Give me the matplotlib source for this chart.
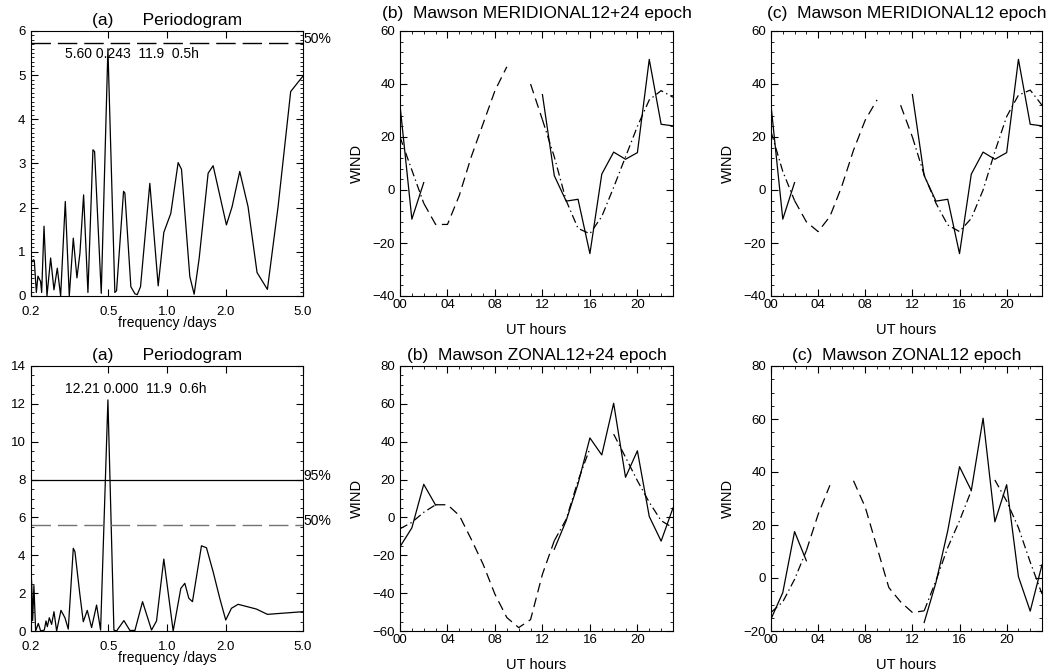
import numpy as np
import matplotlib
matplotlib.use('Agg')
import matplotlib.pyplot as plt
from matplotlib.ticker import MultipleLocator, FixedLocator, NullLocator

plt.rcParams['font.family'] = ['Liberation Sans', 'DejaVu Sans']
plt.rcParams['lines.scale_dashes'] = False

nan = np.nan
hours = np.arange(24)

# periodogram of the meridional wind (top row)
freq_mer = [0.2000, 0.2016, 0.2064, 0.2080, 0.2130, 0.2171, 0.2240, 0.2269, 0.2333, 0.2416,
            0.2523, 0.2625, 0.2730, 0.2840, 0.3001, 0.3146, 0.3299, 0.3445, 0.3569, 0.3727,
            0.3923, 0.4162, 0.4245, 0.4593, 0.4970, 0.5395, 0.5505, 0.5980, 0.6075, 0.6520,
            0.6840, 0.7030, 0.7310, 0.8160, 0.9010, 0.9630, 1.0460, 1.1410, 1.1870, 1.3100,
            1.3790, 1.4630, 1.6270, 1.7260, 2.0200, 2.1600, 2.3650, 2.6100, 2.9030, 3.2810,
            3.7220, 4.3220, 5.0000]
power_mer = [0.62, 0.78, 0.82, 0.80, 0.08, 0.45, 0.33, 0.08, 1.58, 0.00,
             0.86, 0.14, 0.63, 0.00, 2.14, 0.00, 1.31, 0.41, 0.97, 2.29,
             0.08, 3.31, 3.27, 0.06, 5.60, 0.08, 0.12, 2.37, 2.33, 0.21,
             0.05, 0.03, 0.21, 2.55, 0.23, 1.44, 1.87, 3.02, 2.87, 0.44,
             0.04, 0.85, 2.78, 2.95, 1.61, 2.02, 2.82, 2.02, 0.53, 0.15,
             2.02, 4.63, 4.98]

# periodogram of the zonal wind (bottom row)
freq_zon = [0.2000, 0.2020, 0.2040, 0.2070, 0.2113, 0.2181, 0.2242, 0.2341, 0.2388, 0.2426,
            0.2484, 0.2553, 0.2625, 0.2709, 0.2851, 0.2989, 0.3109, 0.3299, 0.3364, 0.3569,
            0.3713, 0.3892, 0.4097, 0.4346, 0.4557, 0.4970, 0.5335, 0.5505, 0.6004, 0.6445,
            0.6840, 0.7487, 0.8327, 0.8834, 0.9630, 1.0757, 1.1776, 1.2346, 1.2944, 1.3518,
            1.5036, 1.5950, 1.7260, 1.8670, 2.0040, 2.1440, 2.3200, 2.8800, 3.2810, 5.0000]
power_zon = [3.22, 2.30, 0.55, 2.40, 0.00, 0.40, 0.00, 0.05, 0.53, 0.23,
             0.70, 0.35, 1.02, 0.00, 1.09, 0.70, 0.10, 4.37, 4.19, 1.90,
             0.49, 1.09, 0.18, 1.37, 0.05, 12.21, 0.05, 0.00, 0.55, 0.03,
             0.03, 1.55, 0.05, 0.53, 3.80, 0.00, 2.25, 2.52, 1.73, 1.55,
             4.50, 4.40, 3.13, 1.73, 0.58, 1.20, 1.41, 1.16, 0.88, 1.02]

# hourly winds (solid) and fitted curves (dashed / dash-dot)
wind_mer = [32, -11, 2.8, nan, nan, nan, nan, nan, nan, nan, nan, nan,
            36, 5.4, -4.2, -3.5, -24, 6, 14.3, 11.6, 14.1, 49.3, 24.8, 24.2]
fit_mer_1224 = [20, 7.5, -5, -13, -13, -2, 12.5, 25, 37.5, 46.5, nan, 40,
                26.5, 12.5, -4, -14.5, -16.5, -10, 1, 12.5, 24, 34, 37.5, 35]
fit_mer_12 = [22, 7, -4, -12, -15.7, -10, 1.3, 15, 26.4, 34, nan, 32,
              20, 5.7, -5, -13.2, -15.7, -10.7, 0, 14.5, 27.7, 35.8, 37.7, 32]

wind_zon = [-15.5, -5.5, 17.5, 6.5, nan, nan, nan, nan, nan, nan, nan, nan,
            nan, -16.8, -1.7, 17.8, 42, 33, 60.3, 21.2, 35.2, 0.5, -12.5, 5]
fit_zon_1224 = [-6, -2.6, 2.7, 6.7, 6.7, 1, -11.5, -24.7, -40.6, -52.9, -58.2, -54,
                -30, -12.3, -1, 19.4, 36.5, nan, 44, 31.8, 19.4, 8, -1.7, -5.5]
fit_zon_12 = [-13, -9, -0.5, 10.3, 24, 35, nan, 36.7, 26.7, 11.5, -3.6, -9,
              -13, -12.4, -1, 11.5, 21.6, 33, nan, 37, 29, 19, 6, -6]

W, H = 1050, 671


def frame(px_left, px_top, px_w, px_h, fig):
    return fig.add_axes([px_left / W, 1 - (px_top + px_h) / H, px_w / W, px_h / H])


def periodogram(ax, f, p, ymax, ymajor, yminor, levels, note):
    ax.plot(f, p, color='k', lw=0.9)
    for lev, txt, ls, col in levels:
        if ls == '--':
            ax.axhline(lev, color=col, lw=1.0, dashes=(14, 5))
        else:
            ax.axhline(lev, color=col, lw=0.9)
        ax.text(5.0, lev, txt, fontsize=10, ha='left', va='baseline')
    ax.set_xscale('log')
    ax.set_xlim(0.2, 5.0)
    ax.set_ylim(0, ymax)
    ax.xaxis.set_major_locator(FixedLocator([0.2, 0.5, 1.0, 2.0, 5.0]))
    ax.xaxis.set_minor_locator(NullLocator())
    ax.set_xticklabels(['0.2', '0.5', '1.0', '2.0', '5.0'])
    ax.yaxis.set_major_locator(MultipleLocator(ymajor))
    ax.yaxis.set_minor_locator(MultipleLocator(yminor))
    ax.tick_params(which='both', direction='in', top=True, right=True, labelsize=9.5)
    ax.tick_params(which='major', length=5, width=0.8)
    ax.tick_params(which='minor', length=2.2, width=0.6)
    ax.tick_params(axis='x', pad=7)
    ax.tick_params(axis='y', pad=4)
    ax.set_xlabel('frequency /days', fontsize=10, labelpad=-1)
    ax.set_title('(a)      Periodogram', fontsize=12.5, pad=4.5)
    ax.text(0.125, 0.915, note, transform=ax.transAxes, fontsize=10, ha='left', va='center')


def wind(ax, data, fit, ylo, yhi, yminor, title, tpad):
    data = np.array(data, dtype=float)
    fit = np.array(fit, dtype=float)
    have = ~np.isnan(data)
    miss = ~have
    near = miss.copy()
    near[1:] |= miss[:-1]
    near[:-1] |= miss[1:]
    ax.plot(hours, data, color='k', lw=0.9)
    ax.plot(hours, np.where(near, fit, nan), color='k', lw=0.9, dashes=(7, 4))
    ax.plot(hours, np.where(have, fit, nan), color='k', lw=0.9, dashes=(6, 2.5, 1, 2.5))
    ax.set_xlim(0, 23)
    ax.set_ylim(ylo, yhi)
    ax.xaxis.set_major_locator(FixedLocator([0, 4, 8, 12, 16, 20]))
    ax.set_xticklabels(['00', '04', '08', '12', '16', '20'])
    ax.xaxis.set_minor_locator(MultipleLocator(1))
    ax.yaxis.set_major_locator(MultipleLocator(20))
    ax.yaxis.set_minor_locator(MultipleLocator(yminor))
    ax.tick_params(which='both', direction='in', top=True, right=True, labelsize=9.5)
    ax.tick_params(which='major', length=5, width=0.8)
    ax.tick_params(which='minor', length=2.5, width=0.6)
    ax.tick_params(axis='x', pad=2)
    ax.tick_params(axis='y', pad=3.5)
    ax.set_xlabel('UT hours', fontsize=10.5, labelpad=9)
    ax.set_ylabel('WIND', fontsize=10.5, labelpad=6)
    ax.set_title(title, fontsize=12.5, pad=tpad)


def main():
    fig = plt.figure(figsize=(W / 100, H / 100), dpi=100)

    ax = frame(31, 31, 272, 265, fig)
    periodogram(ax, freq_mer, power_mer, 6, 1, 0.1,
                [(5.72, '50%', '--', 'k')], '5.60 0.243  11.9  0.5h')
    ax = frame(400, 31, 273, 265, fig)
    wind(ax, wind_mer, fit_mer_1224, -40, 60, 4, '(b)  Mawson MERIDIONAL12+24 epoch', 9.5)
    ax = frame(771, 31, 271, 265, fig)
    wind(ax, wind_mer, fit_mer_12, -40, 60, 4, '(c)  Mawson MERIDIONAL12 epoch', 9.5)

    ax = frame(31, 366, 272, 265, fig)
    periodogram(ax, freq_zon, power_zon, 14, 2, 0.5,
                [(8.0, '95%', '-', 'k'), (5.62, '50%', '--', '0.45')],
                '12.21 0.000  11.9  0.6h')
    ax = frame(400, 366, 273, 265, fig)
    wind(ax, wind_zon, fit_zon_1224, -60, 80, 5, '(b)  Mawson ZONAL12+24 epoch', 4.5)
    ax = frame(771, 366, 271, 265, fig)
    wind(ax, wind_zon, fit_zon_12, -20, 80, 5, '(c)  Mawson ZONAL12 epoch', 4.5)

    fig.savefig('out.png', dpi=100)


if __name__ == "__main__":
    main()
